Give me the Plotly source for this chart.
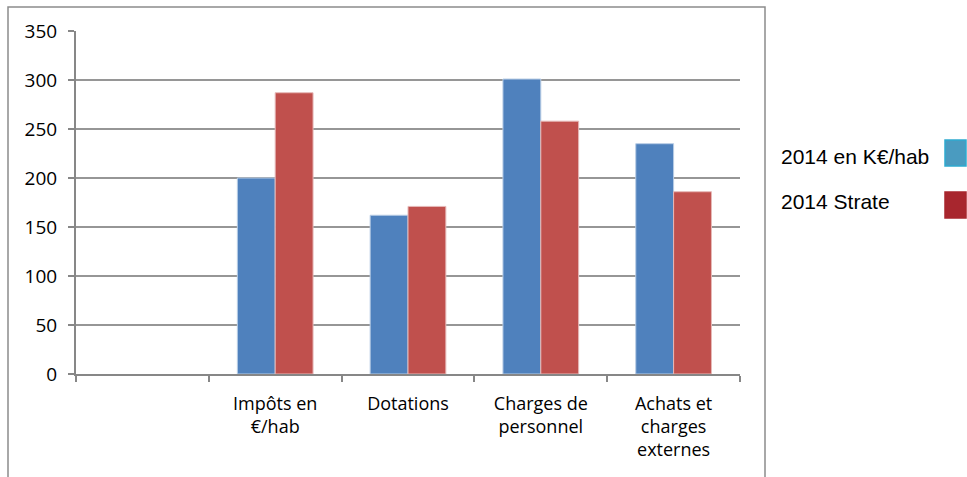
import plotly.graph_objects as go

categories = [" ", "Impôts en<br>€/hab", "Dotations", "Charges de<br>personnel", "Achats et<br>charges<br>externes"]
series_names = ["2014 en K€/hab", "2014 Strate"]
values_kehab = [None, 200, 162, 301, 235]
values_strate = [None, 287, 171, 258, 186]
y_ticks = [0, 50, 100, 150, 200, 250, 300, 350]

bar_colors = ["#4F81BD", "#C0504D"]
bar_edges = ["#B9CDE5", "#E6B9B8"]
legend_fill = ["#4A9BC0", "#A8262E"]
legend_edge = ["#2FAACF", "#A8262E"]

# plot area in pixels
L, R, T, B = 76, 740, 31, 374
W, H = R - L, B - T


def px_x(p):
    return (p - L) / W


def px_y(p):
    return (B - p) / H


fig = go.Figure()
for name, vals, c, e in zip(series_names, [values_kehab, values_strate], bar_colors, bar_edges):
    fig.add_trace(go.Bar(x=categories, y=vals, name=name, marker=dict(color=c, line=dict(color=e, width=1)),
                         showlegend=False))

fig.update_layout(
    width=967, height=477,
    margin=dict(l=L, r=967 - R, t=T, b=477 - B, autoexpand=False),
    paper_bgcolor="white", plot_bgcolor="white",
    barmode="group", bargap=0.43, bargroupgap=0,
    font=dict(family="Open Sans", color="#000000"),
    xaxis=dict(type="category", tickson="boundaries", ticks="outside", ticklen=6, tickcolor="#878787",
               tickwidth=1.5, showline=True, linecolor="#878787", linewidth=2, showgrid=False,
               tickfont=dict(size=18, family="Open Sans", color="#000"), ticklabelstandoff=12,
               range=[-0.5, 4.5]),
    yaxis=dict(range=[0, 350], tickvals=y_ticks, ticks="outside", ticklen=6, tickcolor="#878787",
               tickwidth=1.5, showline=True, linecolor="#878787", linewidth=2, showgrid=True,
               gridcolor="#969696", gridwidth=1.5, zeroline=False,
               tickfont=dict(size=19, family="Open Sans", color="#000"), ticklabelstandoff=7),
)

shapes = [dict(type="rect", xref="paper", yref="paper", x0=px_x(8), x1=px_x(765), y0=px_y(500), y1=px_y(7),
               line=dict(color="#8C8C8C", width=1.5), fillcolor="rgba(0,0,0,0)", layer="below")]
legend_rows = [(156.5, 140, 166), (202, 192, 218)]
annotations = []
for name, (cy, y0, y1), f, e in zip(series_names, legend_rows, legend_fill, legend_edge):
    annotations.append(dict(text=name, xref="paper", yref="paper", x=px_x(779), y=px_y(cy), xanchor="left",
                            yanchor="middle", showarrow=False,
                            font=dict(family="Liberation Sans", size=21, color="#000")))
    shapes.append(dict(type="rect", xref="paper", yref="paper", x0=px_x(945), x1=px_x(966), y0=px_y(y1),
                       y1=px_y(y0), fillcolor=f, line=dict(color=e, width=1.5)))
fig.update_layout(shapes=shapes, annotations=annotations)

fig.write_html("out.html", config={"displayModeBar": False},
               post_script="document.body.style.margin='0';")
